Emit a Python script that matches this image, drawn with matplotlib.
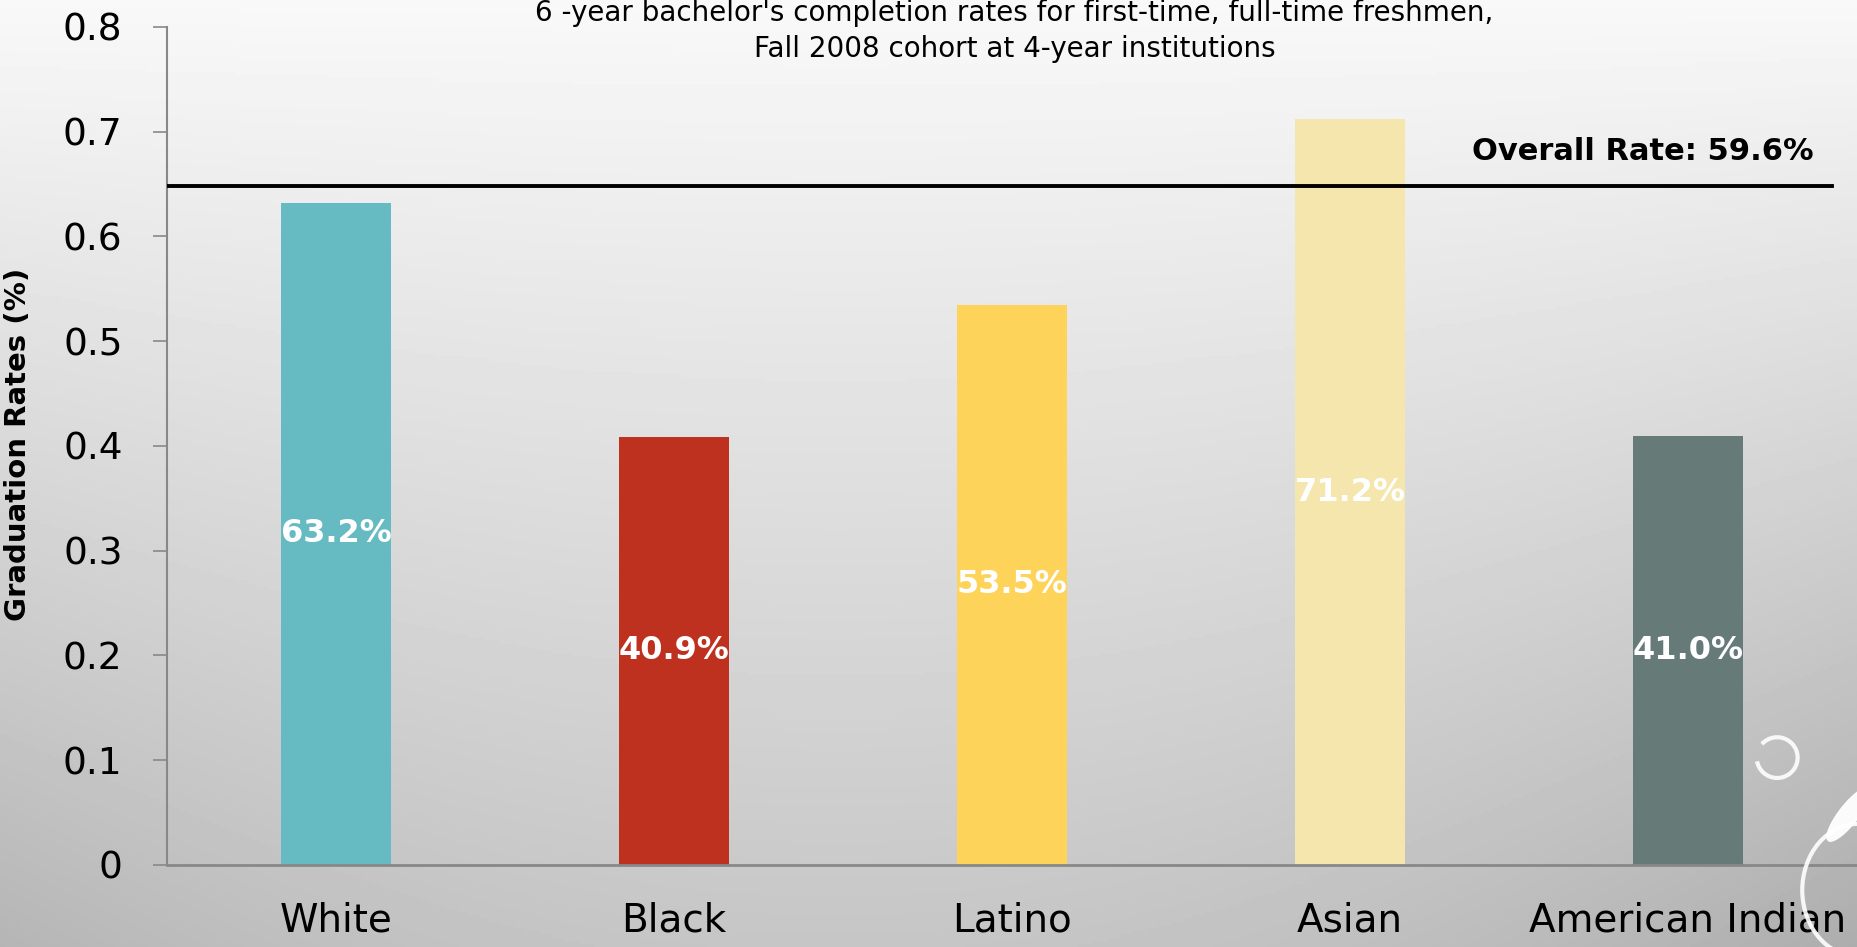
import numpy as np
import matplotlib
matplotlib.use("Agg")
from matplotlib import pyplot as plt
from matplotlib.patches import Arc, Ellipse

# data
groups = ["White", "Black", "Latino", "Asian", "American Indian"]
rates = [0.632, 0.409, 0.535, 0.712, 0.410]
rateLabels = ["63.2%", "40.9%", "53.5%", "71.2%", "41.0%"]
barColors = ["#66BBC3", "#BE311E", "#FED35A", "#F5E6AE", "#667A78"]
overallLine = 0.648
overallText = "Overall Rate: 59.6%"
titleLines = ["6 -year bachelor's completion rates for first-time, full-time freshmen,",
              "Fall 2008 cohort at 4-year institutions"]

plt.rcParams['font.family'] = ['DejaVu Sans']

fig = plt.figure(figsize=(18.58, 9.47), dpi=100)

# slide-like grey gradient background
bg = fig.add_axes([0, 0, 1, 1], zorder=-10)
yy, xx = np.mgrid[0:1:300j, 0:1:600j]
shade = 0.975 - 0.2 * yy - 0.08 * (np.abs(xx - 0.45) * 2) ** 2 * yy
bg.imshow(shade, cmap="gray", vmin=0, vmax=1, aspect="auto", extent=[0, 1, 0, 1], origin="upper")
bg.axis("off")

ax = fig.add_axes([0.0899, 0.0866, 0.9095, 0.8849])
ax.set_facecolor("none")

x = np.arange(len(groups))
bars = ax.bar(x, rates, width=0.325, color=barColors, zorder=2)
for b, lab in zip(bars, rateLabels):
    ax.text(b.get_x() + b.get_width() / 2, b.get_height() / 2, lab, ha="center", va="center",
            color="white", fontsize=23, fontweight="bold", zorder=3)

ax.axhline(overallLine, xmin=0, xmax=0.985, color="black", lw=2.8, zorder=4)
ax.text(0.9745, 0.681, overallText, transform=ax.get_yaxis_transform(), ha="right", va="center",
        fontsize=22, fontweight="bold", color="black")

ax.set_xlim(-0.5, 4.5)
ax.set_ylim(0, 0.8)
ax.set_yticks(np.arange(0, 0.81, 0.1))
ax.set_yticklabels(["0", "0.1", "0.2", "0.3", "0.4", "0.5", "0.6", "0.7", "0.8"])
ax.set_xticks(x, groups)
ax.tick_params(axis="y", labelsize=27, length=10, width=1.2, color="#888888", pad=22)
ax.tick_params(axis="x", labelsize=28, length=0, pad=26)

for side in ["top", "right"]:
    ax.spines[side].set_visible(False)
ax.spines["left"].set_color("#888888")
ax.spines["bottom"].set_color("#888888")
ax.spines["left"].set_linewidth(1.5)
ax.spines["bottom"].set_linewidth(2)

ax.set_ylabel("Graduation Rates (%)", fontsize=21, fontweight="bold")
ax.yaxis.set_label_coords(-0.08, 0.502)

fig.text(0.546, 0.986, titleLines[0], ha="center", va="center", fontsize=20)
fig.text(0.546, 0.948, titleLines[1], ha="center", va="center", fontsize=20)

# decorative swirls bottom right
fig.add_artist(Arc((0.9565, 0.2), 0.022, 0.043, angle=0, theta1=200, theta2=120,
                   transform=fig.transFigure, color="white", lw=3, alpha=0.9))
fig.add_artist(Arc((1.0, 0.06), 0.06, 0.14, angle=0, theta1=90, theta2=270,
                   transform=fig.transFigure, color="white", lw=3, alpha=0.9))
fig.add_artist(Ellipse((0.995, 0.14), 0.012, 0.06, angle=-20,
                       transform=fig.transFigure, color="white", alpha=0.95))

fig.savefig("out.png", dpi=100)
